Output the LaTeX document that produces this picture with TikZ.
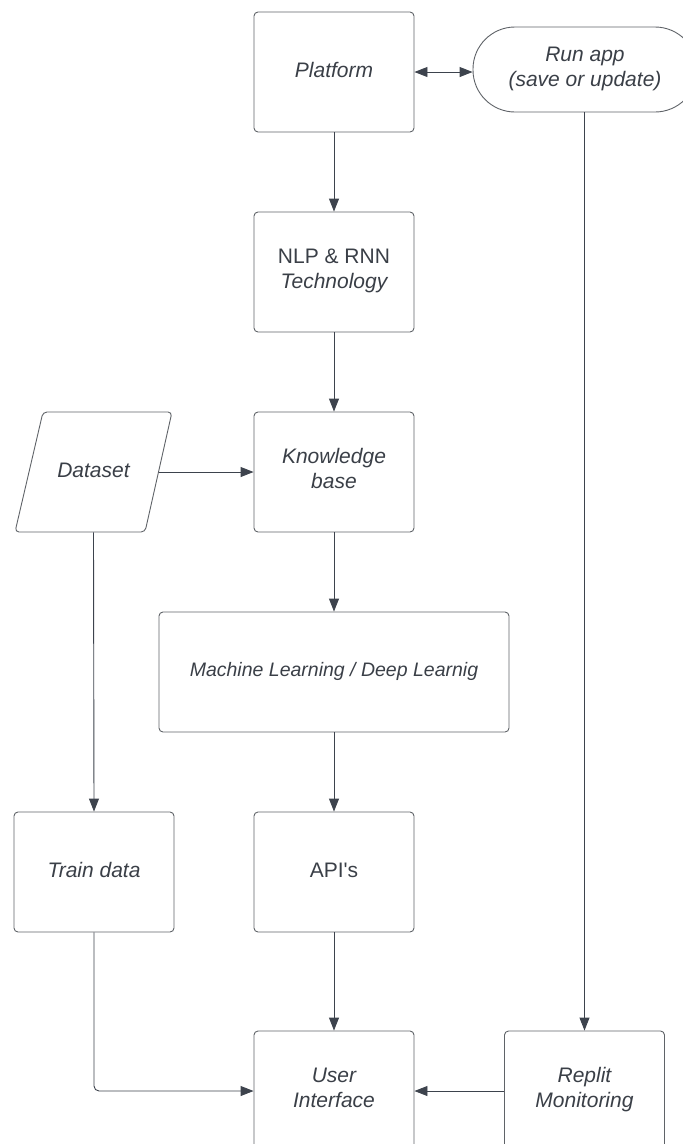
\documentclass[tikz,border=0pt]{standalone}
\usepackage{fontspec}
\setmainfont{Liberation Sans}
\usetikzlibrary{arrows.meta}
\definecolor{lineC}{HTML}{3D434D}
\definecolor{boxC}{HTML}{5F6368}
\definecolor{txtC}{HTML}{3A3F47}
\tikzset{
  box/.style={draw=boxC, line width=0.9pt, rounded corners=4pt, minimum width=160pt, minimum height=120pt, align=center, text=txtC, font=\fontsize{21}{25.5}\selectfont\itshape, inner sep=0pt, text height=15.5pt, text depth=5.5pt},
  twoline/.style={text height=41pt, text depth=8pt},
  conn/.style={draw=lineC, line width=0.9pt, -{Triangle[length=13pt,width=10pt]}},
  bconn/.style={draw=lineC, line width=0.9pt, {Triangle[length=13pt,width=10pt]}-{Triangle[length=13pt,width=10pt]}},
}
\begin{document}
\begin{tikzpicture}[x=1pt,y=-1pt]
\useasboundingbox (0,0) rectangle (683,1144);
\clip (0,0) rectangle (683,1144);
\node[box] (plat) at (334,72) {Platform};
\node[box, twoline, rounded corners=42pt, minimum width=224pt, minimum height=85pt, text depth=7pt] (run) at (585,69.5) {Run app\\(save or update)};
\node[box, twoline] (nlp) at (334,272) {\upshape NLP \& RNN\\Technology};
\node[box, twoline] (kb) at (334,472) {Knowledge\\base};
\node[box, draw=none, minimum width=157pt] (data) at (93.5,472) {Dataset};
\draw[draw=boxC, line width=0.9pt, rounded corners=4pt] (43,412) -- (172,412) -- (145,532) -- (15,532) -- cycle;
\coordinate (dataE) at (158.5,472);
\node[box, minimum width=350pt, font=\fontsize{19.5}{24}\selectfont\itshape, text height=14.2pt, text depth=6.2pt] (ml) at (334,672) {Machine Learning / Deep Learnig};
\node[box] (api) at (334,872) {\upshape API\textquotesingle s};
\node[box] (train) at (94,872) {Train data};
\node[box, twoline] (ui) at (334,1091) {User\\Interface};
\node[box, twoline] (rep) at (584.5,1091) {Replit\\Monitoring};
\draw[bconn] (plat.east) -- (plat.east -| run.west);
\draw[conn] (plat) -- (nlp);
\draw[conn] (nlp) -- (kb);
\draw[conn] (dataE) -- (kb.west);
\draw[conn] (kb) -- (ml);
\draw[conn] (ml) -- (api);
\draw[conn] (api) -- (ui);
\draw[conn] (data.south) -- (train.north);
\draw[conn, rounded corners=5pt] (train.south) |- (ui.west);
\draw[conn] (rep.west) -- (ui.east);
\draw[conn] (run.south -| rep.north) -- (rep.north);
\end{tikzpicture}
\end{document}
